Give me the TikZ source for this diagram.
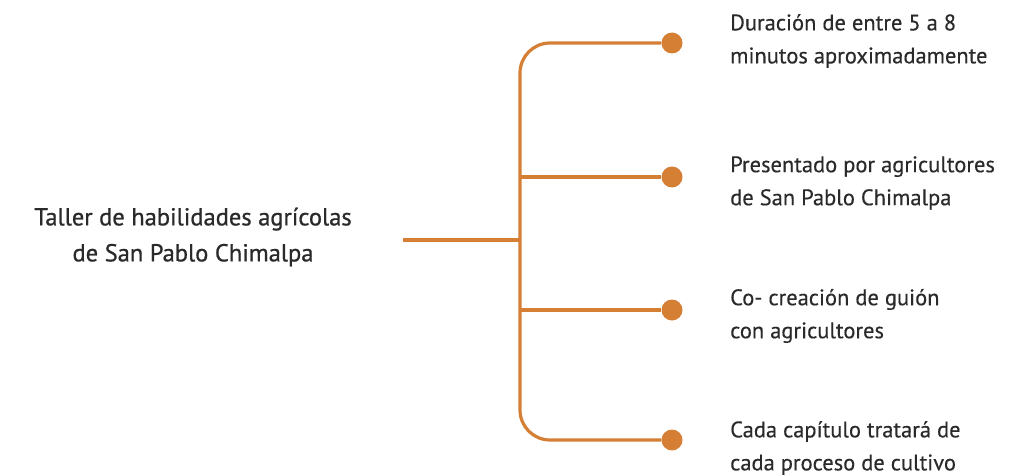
\documentclass[tikz,border=0pt]{standalone}
\usepackage{fontspec}
\setmainfont{PT Sans}
\newfontfamily\titulofont[FakeBold=0.8]{PT Sans}
\newfontfamily\ramafont[FakeBold=0.3]{PT Sans}
\usetikzlibrary{positioning, calc}

\definecolor{naranja}{HTML}{D57F35}
\definecolor{texto}{HTML}{2A2A2A}

\begin{document}
\begin{tikzpicture}[
    x=1pt, y=-1pt,
    rama/.style={draw=naranja, line width=3.2pt},
    punto/.style={circle, fill=naranja, inner sep=0pt, minimum size=21pt},
    etiqueta/.style={anchor=west, align=left, text=texto, inner sep=0pt, font=\ramafont\fontsize{22.5}{33}\selectfont},
    titulo/.style={align=center, text=texto, inner sep=0pt, font=\titulofont\fontsize{24.5}{36}\selectfont}
]
\useasboundingbox (0,0) rectangle (1017,476);

% Nodos
\node[titulo] (taller) at (193,237) {Taller de habilidades agrícolas\\de San Pablo Chimalpa};
\coordinate (inicio) at (403,240);
\coordinate (eje) at (520,240);

\node[punto] (p1) at (672,43) {};
\node[punto] (p2) at (672,177) {};
\node[punto] (p3) at (672,310) {};
\node[punto] (p4) at (672,440) {};

\node[etiqueta] (t1) at (730,41) {Duración de entre 5 a 8\\minutos aproximadamente};
\node[etiqueta] (t2) at (730,183) {Presentado por agricultores\\de San Pablo Chimalpa};
\node[etiqueta] (t3) at (730,316) {Co- creación de guión\\con agricultores};
\node[etiqueta] (t4) at (730,448) {Cada capítulo tratará de\\cada proceso de cultivo};

% Ramas
\draw[rama] (inicio) -- (eje);
\draw[rama, rounded corners=30pt] (eje) |- (p1);
\draw[rama, rounded corners=30pt] (eje) |- (p4);
\draw[rama] (eje |- p2) -- (p2);
\draw[rama] (eje |- p3) -- (p3);

\end{tikzpicture}
\end{document}
